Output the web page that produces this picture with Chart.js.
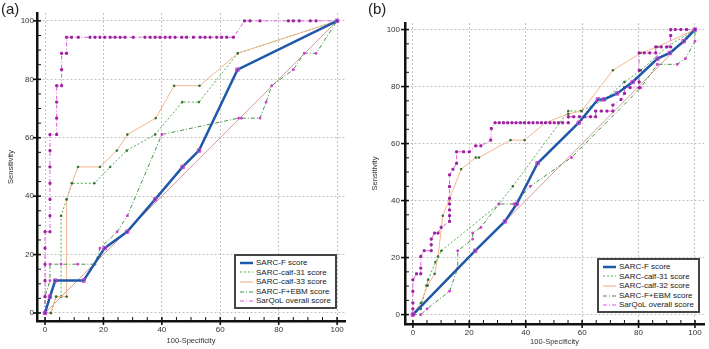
<!DOCTYPE html>
<html>
<head>
<meta charset="utf-8">
<script src="https://cdn.jsdelivr.net/npm/chart.js@4"></script>
<style>
  body { margin: 0; background: #fff; font-family: Arial, "Liberation Sans", sans-serif; }
  #wrap { position: relative; width: 709px; height: 349px; overflow: hidden; }
  .panel { position: absolute; top: 0; width: 354px; height: 349px; }
  .tag { position: absolute; top: 0; font-size: 15px; color: #222; }
  .legend { position: absolute; background: #fff; border: 2px solid #444; padding: 2px 4px 1px 4px; font-size: 8px; color: #222; }
  .legend div { height: 9.6px; line-height: 9.6px; white-space: nowrap; }
  .legend svg { vertical-align: middle; margin-right: 3px; }
</style>
</head>
<body>
<div id="wrap">
  <div class="panel" style="left:0"><canvas id="chartA" width="354" height="349"></canvas></div>
  <div class="panel" style="left:355px"><canvas id="chartB" width="354" height="349"></canvas></div>
  <div class="tag" style="left:1px">(a)</div>
  <div class="tag" style="left:368px">(b)</div>
  <div class="legend" id="legendA" style="left:234px;top:254px"></div>
  <div class="legend" id="legendB" style="left:597px;top:258px"></div>
</div>
<script>
// Panel (a): [100-Specificity, Sensitivity]
const aSarcF = [[0,0],[1.7,5.6],[3.5,11.1],[13.2,11.1],[20.4,22.2],[28.1,27.8],[37.7,38.9],[47.1,50],[52.7,55.6],[65.9,83.3],[100,100]];
const aCalf31 = [[0,0],[2,0],[3.8,5.6],[5.5,5.6],[5.5,33.3],[7.4,38.9],[9.2,44.4],[16.9,44.4],[22.3,50],[28,55.6],[37.7,61.1],[47,72.2],[52.7,72.2],[66,88.9],[100,100]];
const aCalf33 = [[0,0],[2,0],[3.8,5.6],[7.4,5.6],[7.4,38.9],[9.2,44.4],[11.3,50],[18.8,50],[24.6,55.6],[28.2,61.1],[37.9,66.7],[44.2,77.8],[52.9,77.8],[66,88.9],[100,100]];
const aEbm = [[0,0],[0,5.6],[1.7,11.1],[1.7,16.7],[5.5,16.7],[11.2,16.7],[17.1,16.7],[18.8,22.2],[24.7,27.8],[28.2,33.3],[40,61.1],[66.3,66.7],[67.2,66.7],[73.6,66.7],[75.7,72.2],[77.6,77.8],[85,83.3],[88.7,88.9],[92.8,88.9],[100,100]];
const aSarqol = [[0,0],[0,5.6],[0,11.1],[0,16.7],[0,22.2],[0,27.8],[1.7,27.8],[1.7,33.3],[1.7,38.9],[1.7,44.4],[1.7,50],[1.7,55.6],[1.7,61.1],[4,61.1],[4,66.7],[4,72.2],[4,77.8],[5.7,77.8],[5.7,83.3],[5.7,88.9],[7.4,88.9],[7.4,94.4],
  [9.1,94.4],[11.4,94.4],[15.4,94.4],[17.1,94.4],[18.8,94.4],[20.5,94.4],[22.3,94.4],[24,94.4],[25.7,94.4],[27.4,94.4],[30.2,94.4],[34.2,94.4],[36,94.4],[37.7,94.4],[39.4,94.4],[41.1,94.4],[42.8,94.4],[44.5,94.4],[46.8,94.4],[48.5,94.4],[50.8,94.4],[53.1,94.4],[54.8,94.4],[56.5,94.4],[58.8,94.4],[60.5,94.4],[62.2,94.4],[64.5,94.4],
  [68.3,100],[70.2,100],[73.6,100],[83.3,100],[85,100],[87,100],[90.8,100],[92.8,100],[100,100]];

// Panel (b)
const bSarcF = [[0,0],[22.1,22.4],[32.6,32.7],[36.8,38.8],[44.2,53.1],[58.8,67.3],[65.6,75.5],[67.7,75.5],[72.4,77.6],[77.9,81.6],[86.7,89.8],[91.1,91.8],[96,95.9],[100,100]];
const bCalf31 = [[0,0],[2.8,2],[4.8,10.2],[5.4,12.2],[8,18.4],[10.1,22.4],[30.5,38.8],[35.4,45],[55.1,71.4],[59.5,71.4],[68.2,75.5],[75,81.6],[80.8,85.7],[90,93.9],[100,100]];
const bCalf32 = [[0,0],[2.8,4.1],[5.2,10.2],[7.7,14.3],[8.9,20.4],[10.6,34.7],[17.1,51],[22.3,55.1],[23.4,55.1],[34.6,61.2],[39.6,61.2],[46.9,67.3],[55.1,70.4],[59.8,71.4],[70.9,85.7],[80.8,91.8],[86.7,93.9],[100,100]];
const bEbm = [[0,0],[2.8,0],[5,2],[13,8.2],[15.9,16.3],[15.9,22.4],[21.2,26.5],[21.2,28.6],[24.1,30.6],[30.5,38.8],[35.8,38.8],[41.6,45],[56.2,55.1],[80.8,79.6],[86.7,87.8],[93.7,87.8],[96.6,89.8],[100,95.9],[100,100]];
const bSarqol = [[0,0],[0,2],[0,4.1],[0,8.2],[0,12.2],[1.3,14.3],[2.8,14.3],[2.8,16.3],[2.8,20.4],[4,22.4],[6.5,22.4],[6.5,24.5],[6.5,26.5],[7.7,28.6],[8.9,28.6],[10,30.6],[13,32.7],[13,34.7],[13,36.7],[13,38.8],[13,40.8],[13,44.9],[13,49],[14.2,51],[15.5,53.1],[15.5,57.1],[18,57.1],[20,57.1],[22.3,59.2],[24.1,59.2],[27.6,61.2],[27.8,65.3],
  [29.1,67.3],[30.6,67.3],[32.1,67.3],[33.6,67.3],[35.1,67.3],[36.6,67.3],[38.1,67.3],[39.6,67.3],[41.1,67.3],[42.6,67.3],[44.1,67.3],[45.6,67.3],[47.1,67.3],[48.6,67.3],[50.1,67.3],[51.6,67.3],[53.1,67.3],[55.1,67.3],
  [55.1,69.4],[57,69.4],[59,69.4],[61,69.4],[63,69.4],[64.8,69.4],[64.8,71.4],[66.8,71.4],[68.8,71.4],[70.9,71.4],[70.9,73.5],[73.8,75.5],[75,77.6],[75,79.6],[77,79.6],[80.2,79.6],[80.2,81.6],[80.2,85.7],[80.2,91.8],[82,91.8],[84,91.8],[86.1,91.8],[86.1,93.9],[88,93.9],[90,93.9],[91.4,93.9],[91.4,97.9],[91.4,100],[93,100],[95,100],[97,100],[100,100]];

const diagonal = [[0,0],[100,100]];
const namesA = ['SARC-F score','SARC-calf-31 score','SARC-calf-33 score','SARC-F+EBM score','SarQoL overall score'];
const namesB = ['SARC-F score','SARC-calf-31 score','SARC-calf-32 score','SARC-F+EBM score','SarQoL overall score'];

const styles = [
  { color: '#1f58a8', width: 2.5, dash: [], pt: 'rgba(255,255,255,0)', ptBorder: '#d03cd0', r: 2.4 },
  { color: '#4caf4c', width: 1, dash: [2, 2], pt: '#2f6e2f', ptBorder: '#2f6e2f', r: 1 },
  { color: '#f6b58c', width: 1, dash: [], pt: '#2f6e2f', ptBorder: '#2f6e2f', r: 1 },
  { color: '#3f9640', width: 1, dash: [4, 2, 1, 2], pt: '#d23ed2', ptBorder: '#d23ed2', r: 1.2 },
  { color: '#e25ae2', width: 1, dash: [4, 2, 1, 2], pt: '#9c1f9e', ptBorder: '#9c1f9e', r: 1.4 }
];

function pts(arr) { return arr.map(p => ({ x: p[0], y: p[1] })); }

function buildDatasets(series, names) {
  const sets = series.map((s, i) => ({
    label: names[i],
    data: pts(s),
    showLine: true,
    borderColor: styles[i].color,
    borderWidth: styles[i].width,
    borderDash: styles[i].dash,
    pointStyle: 'rect',
    pointRadius: styles[i].r,
    pointBackgroundColor: styles[i].pt,
    pointBorderColor: styles[i].ptBorder,
    pointBorderWidth: 1,
    tension: 0,
    order: i === 0 ? 0 : 5 - i
  }));
  sets.push({
    label: 'diag', data: pts(diagonal), showLine: true, borderColor: '#d39c9c',
    borderWidth: 1, pointRadius: 0, order: 10
  });
  return sets;
}

// tick marks: major cross the axis, minor point inside
const axisTicks = {
  id: 'axisTicks',
  afterDraw(chart) {
    const ctx = chart.ctx;
    const { x, y } = chart.scales;
    ctx.save();
    ctx.strokeStyle = '#111';
    x.ticks.forEach(t => {
      const px = x.getPixelForValue(t.value);
      const major = t.value % 20 === 0;
      ctx.lineWidth = major ? 1.6 : 1;
      ctx.beginPath();
      ctx.moveTo(px, y.bottom + (major ? 4 : 0));
      ctx.lineTo(px, y.bottom - 4);
      ctx.stroke();
    });
    y.ticks.forEach(t => {
      const py = y.getPixelForValue(t.value);
      const major = t.value % 20 === 0;
      ctx.lineWidth = major ? 1.6 : 1;
      ctx.beginPath();
      ctx.moveTo(x.left - (major ? 4 : 0), py);
      ctx.lineTo(x.left + 4, py);
      ctx.stroke();
    });
    ctx.restore();
  }
};

function axis(min, max, title, fitSize, isX, labelPad, titlePad) {
  return {
    type: 'linear',
    min: min,
    max: max,
    ticks: {
      stepSize: 5,
      includeBounds: false,
      autoSkip: false,
      maxRotation: 0,
      padding: labelPad,
      color: '#333',
      font: { family: 'Arial', size: 8 },
      callback: v => (v % 20 === 0 ? v : '')
    },
    grid: {
      drawTicks: false,
      color: c => (c.tick && c.tick.value % 20 === 0 ? '#c2c2c2' : 'rgba(0,0,0,0)'),
      lineWidth: 1
    },
    border: { display: true, color: '#111', width: 2.5, dash: [2, 2] },
    title: {
      display: true,
      text: title,
      color: '#333',
      font: { family: 'Arial', size: 7.5 },
      padding: titlePad
    },
    afterFit: s => {
      if (isX) s.height = fitSize; else s.width = fitSize;
    }
  };
}

function makeChart(id, series, names, cfg) {
  return new Chart(document.getElementById(id), {
    type: 'scatter',
    data: { datasets: buildDatasets(series, names) },
    options: {
      responsive: false,
      animation: false,
      layout: { padding: cfg.pad },
      plugins: { legend: { display: false }, tooltip: { enabled: false } },
      scales: {
        x: axis(cfg.xMin, cfg.xMax, '100-Specificity', cfg.xFit, true, 4, { top: 0, bottom: cfg.xTitlePad }),
        y: axis(cfg.yMin, cfg.yMax, 'Sensitivity', cfg.yFit, false, cfg.yLabelPad, { top: cfg.yTitlePad, bottom: 0 })
      }
    },
    plugins: [axisTicks]
  });
}

makeChart('chartA', [aSarcF, aCalf31, aCalf33, aEbm, aSarqol], namesA, {
  pad: { left: 0, right: 9, top: 13, bottom: 0 },
  xMin: -2.74, xMax: 102.7, yMin: -2.74, yMax: 102.7,
  xFit: 28, yFit: 37, yLabelPad: 3, xTitlePad: 4, yTitlePad: 6
});
makeChart('chartB', [bSarcF, bCalf31, bCalf32, bEbm, bSarqol], namesB, {
  pad: { left: 0, right: 2, top: 23, bottom: 0 },
  xMin: -2.8, xMax: 103.2, yMin: -3.3, yMax: 102.3,
  xFit: 25, yFit: 50, yLabelPad: 5, xTitlePad: 3, yTitlePad: 15
});

// legends drawn as html so the text stays text
function legendSample(st) {
  const dash = st.dash.length ? st.dash.join(',') : 'none';
  return '<svg width="13" height="6"><line x1="0" y1="3" x2="13" y2="3" stroke="' + st.color +
    '" stroke-width="' + Math.max(st.width, 1.2) + '" stroke-dasharray="' + dash + '"/></svg>';
}
function fillLegend(id, names) {
  document.getElementById(id).innerHTML = names.map((n, i) =>
    '<div>' + legendSample(styles[i]) + n + '</div>').join('');
}
fillLegend('legendA', namesA);
fillLegend('legendB', namesB);
</script>
</body>
</html>
